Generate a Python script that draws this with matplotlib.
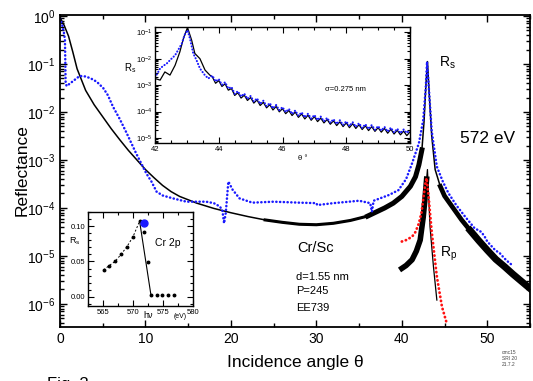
import numpy as np
import matplotlib
matplotlib.use('Agg')
import matplotlib.pyplot as plt
from matplotlib.ticker import LogLocator, MultipleLocator, NullFormatter, FixedLocator, FixedFormatter

plt.rcParams['font.family'] = ['Liberation Sans', 'DejaVu Sans']
plt.rcParams['mathtext.default'] = 'regular'

# ---- main panel: measured Rs (blue), calculated Rs (black), Rp (red / black), log10 values
blue_t = [0, 0.25, 0.47, 0.58, 0.66, 0.78, 1.5, 2.3, 3.0, 3.6, 4.3, 5.05, 5.6, 6.2, 7.0, 7.8,
          8.9, 10.1, 10.7, 11.3, 12.0, 13.2, 14.8, 16.0, 17.1, 18.0, 18.7, 19.0, 19.2, 19.4,
          19.7, 20.2, 21.0, 22.5, 25.0, 28.0, 30.0, 30.1, 32.0, 35.0, 36.3, 36.5, 36.7, 38.5,
          39.6, 40.5, 41.2, 42.0, 42.5, 42.8, 42.95, 43.2, 43.5, 44.1, 44.8, 45.45, 46.4, 47.4,
          48.5, 49.3, 49.7, 50.0, 50.9, 51.5, 52.0, 52.6, 53.0]
blue_log = [-0.05, -0.18, -0.36, -0.5, -1.4, -1.46, -1.36, -1.25, -1.26, -1.3, -1.37, -1.5,
            -1.65, -1.89, -2.15, -2.44, -2.86, -3.28, -3.45, -3.66, -3.74, -3.8, -3.87, -3.87,
            -3.87, -3.9, -3.97, -4.05, -4.32, -4.1, -3.45, -3.62, -3.8, -3.89, -3.87, -3.89,
            -3.9, -3.94, -3.9, -3.85, -3.9, -4.08, -3.85, -3.73, -3.63, -3.4, -3.07, -2.65,
            -2.17, -1.5, -0.95, -1.6, -2.4, -3.14, -3.45, -3.69, -3.95, -4.18, -4.42, -4.5,
            -4.6, -4.7, -4.875, -4.95, -5.05, -5.15, -5.2]

rs_t = [0, 0.5, 1.0, 1.5, 2.0, 3.0, 4.0, 5.0, 6.0, 7.0, 8.0, 9.0, 10.0, 11.0, 12.0, 13.0, 14.0,
        16.0, 18.0, 20.0, 22.0, 24.0, 26.0, 28.0, 30.0, 32.0, 34.0, 36.0, 38.0, 39.0, 40.0,
        41.0, 41.6, 42.0, 42.35, 42.6, 42.8, 43.0, 43.2, 43.5, 43.9, 44.5, 45.0, 46.0, 47.0,
        48.0, 49.0, 50.0, 51.0, 52.0, 53.0, 54.0, 55.0]
rs_log = [-0.03, -0.2, -0.42, -0.75, -1.1, -1.55, -1.85, -2.1, -2.35, -2.58, -2.8, -3.0, -3.2,
          -3.37, -3.53, -3.66, -3.76, -3.9, -4.01, -4.1, -4.18, -4.25, -4.3, -4.34, -4.35,
          -4.32, -4.26, -4.17, -4.0, -3.9, -3.76, -3.55, -3.35, -3.1, -2.79, -2.2, -1.5,
          -0.95, -1.6, -2.5, -3.2, -3.55, -3.75, -4.0, -4.25, -4.47, -4.68, -4.88, -5.07,
          -5.22, -5.38, -5.53, -5.68]

rp_t = [40.0, 40.5, 41.2, 41.6, 42.0, 42.3, 42.5, 42.75, 42.9, 43.1, 43.5, 44.1, 44.7, 45.25]
rp_log = [-4.7, -4.67, -4.6, -4.5, -4.32, -4.1, -3.83, -3.5, -3.38, -3.7, -4.5, -5.43, -6.06, -6.4]

rpc_t = [40.0, 40.5, 41.2, 41.7, 42.15, 42.5, 42.7, 42.9, 43.0, 43.3, 43.7, 44.1]
rpc_log = [-5.26, -5.2, -5.08, -4.9, -4.67, -4.2, -3.83, -3.4, -3.2, -4.39, -5.22, -5.92]

# ---- inset 1: zoom on the Bragg peak
in_t = [42.0, 42.16, 42.31, 42.47, 42.63, 42.78, 42.9, 43.02, 43.15, 43.25, 43.41, 43.57, 43.72,
        43.8, 43.9, 44.0, 44.1, 44.2, 44.3, 44.4, 44.5, 44.6, 44.7, 44.8, 44.9, 45.0, 45.1,
        45.2, 45.3, 45.4, 45.5, 45.6, 45.7, 45.8, 45.9, 46.0, 46.1, 46.2, 46.3, 46.4, 46.5,
        46.6, 46.7, 46.8, 46.9, 47.0, 47.1, 47.2, 47.3, 47.4, 47.5, 47.6, 47.7, 47.8, 47.9,
        48.0, 48.1, 48.2, 48.3, 48.4, 48.5, 48.6, 48.7, 48.8, 48.9, 49.0, 49.1, 49.2, 49.3,
        49.4, 49.5, 49.6, 49.7, 49.8, 49.9, 50.0]
in_calc = [-2.75, -2.81, -2.5, -2.62, -2.25, -1.74, -1.2, -0.82, -1.3, -1.8, -2.0, -2.43, -2.62,
           -2.69, -2.93, -2.83, -3.05, -2.95, -3.19, -3.13, -3.39, -3.29, -3.49,
           -3.38, -3.58, -3.47, -3.68, -3.56, -3.77, -3.65, -3.86, -3.74, -3.94,
           -3.81, -4.01, -3.89, -4.08, -3.96, -4.15, -4.02, -4.22, -4.09, -4.28,
           -4.14, -4.33, -4.19, -4.38, -4.25, -4.43, -4.30, -4.48, -4.35, -4.53,
           -4.39, -4.57, -4.43, -4.61, -4.46, -4.64, -4.50, -4.68, -4.54, -4.72,
           -4.57, -4.75, -4.61, -4.78, -4.64, -4.82, -4.67, -4.85, -4.71, -4.88,
           -4.74, -4.91, -4.77]
inb_t = [42.0, 42.08, 42.16, 42.25, 42.37, 42.5, 42.63, 42.75, 42.84, 42.93, 43.02, 43.1, 43.2,
         43.3, 43.41, 43.55, 43.67,
         43.8, 43.9, 44.0, 44.1, 44.2, 44.3, 44.4, 44.5, 44.6, 44.7, 44.8, 44.9, 45.0, 45.1,
         45.2, 45.3, 45.4, 45.5, 45.6, 45.7, 45.8, 45.9, 46.0, 46.1, 46.2, 46.3, 46.4, 46.5,
         46.6, 46.7, 46.8, 46.9, 47.0, 47.1, 47.2, 47.3, 47.4, 47.5, 47.6, 47.7, 47.8, 47.9,
         48.0, 48.1, 48.2, 48.3, 48.4, 48.5, 48.6, 48.7, 48.8, 48.9, 49.0, 49.1, 49.2, 49.3,
         49.4, 49.5, 49.6, 49.7, 49.8, 49.9, 50.0]
inb_meas = [-2.7, -2.55, -2.37, -2.28, -2.18, -2.02, -1.87, -1.62, -1.43, -1.1, -0.92, -1.25, -1.8,
            -2.05, -2.37, -2.6, -2.75,
            -2.64, -2.86, -2.77, -2.99, -2.89, -3.13, -3.07, -3.33, -3.23, -3.43,
            -3.32, -3.52, -3.41, -3.62, -3.50, -3.71, -3.59, -3.80, -3.68, -3.88,
            -3.75, -3.95, -3.83, -4.02, -3.90, -4.09, -3.96, -4.16, -4.03, -4.22,
            -4.08, -4.27, -4.13, -4.32, -4.19, -4.37, -4.24, -4.42, -4.29, -4.47,
            -4.33, -4.51, -4.37, -4.55, -4.40, -4.58, -4.44, -4.62, -4.48, -4.66,
            -4.51, -4.69, -4.55, -4.72, -4.58, -4.76, -4.61, -4.79, -4.65, -4.82,
            -4.68, -4.81, -4.70]

# ---- inset 2: peak Rs vs photon energy (Cr 2p)
e_pts = [565.1, 566.0, 567.0, 568.0, 569.0, 570.0, 571.1, 571.9, 572.5, 573.0, 574.0, 574.8, 575.8, 576.8]
r_pts = [0.038, 0.044, 0.050, 0.060, 0.071, 0.085, 0.107, 0.092, 0.049, 0.002, 0.002, 0.002, 0.002, 0.002]
e_blue = [571.9]
r_blue = [0.104]

W, H = 533, 381
fig = plt.figure(figsize=(5.33, 3.81), dpi=100)


def box(x0, y0, x1, y1):
    return [x0 / W, 1 - y1 / H, (x1 - x0) / W, (y1 - y0) / H]


def ftext(x, y, s, **kw):
    fig.text(x / W, 1 - y / H, s, **kw)


BLUE = '#1a1aff'
RED = '#ff1010'
dots = dict(ls=(0, (0.1, 1.4)), dash_capstyle='round')

##### main plot
ax = fig.add_axes(box(60, 15, 530, 327))
ax.set_yscale('log')
ax.set_xlim(0, 55)
ax.set_ylim(3.3e-7, 1.05)

rs_t = np.array(rs_t)
rs = 10 ** np.array(rs_log)
ax.plot(rs_t, rs, color='k', lw=1.1)
# fringes too dense to resolve -> drawn as a band
m = (rs_t >= 24) & (rs_t <= 36)
ax.plot(rs_t[m], rs[m], color='k', lw=2.2)
m = (rs_t >= 36) & (rs_t <= 42.35)
ax.plot(rs_t[m], rs[m], color='k', lw=3.6)
m = (rs_t >= 44.5) & (rs_t <= 48)
ax.plot(rs_t[m], rs[m], color='k', lw=3.4)
m = (rs_t >= 48)
ax.plot(rs_t[m], rs[m], color='k', lw=5.0)

ax.plot(blue_t, 10 ** np.array(blue_log), color=BLUE, lw=1.8, **dots)

rpc = 10 ** np.array(rpc_log)
ax.plot(rpc_t[:8], rpc[:8], color='k', lw=4.0)
ax.plot(rpc_t[7:], rpc[7:], color='k', lw=0.9)
ax.plot(rp_t, 10 ** np.array(rp_log), color=RED, lw=2.0, **dots)

ax.xaxis.set_major_locator(MultipleLocator(10))
ax.xaxis.set_minor_locator(MultipleLocator(5))
ax.yaxis.set_major_locator(LogLocator(base=10, numticks=20))
ax.yaxis.set_minor_locator(LogLocator(base=10, subs=range(2, 10), numticks=20))
ax.yaxis.set_minor_formatter(NullFormatter())
ax.tick_params(which='both', direction='in', top=True, right=True, labelsize=10, width=1)
ax.tick_params(which='major', length=5)
ax.tick_params(which='minor', length=3)
for s in ax.spines.values():
    s.set_linewidth(1.3)

ax.text(46.8, 10 ** -2.55, '572 eV', fontsize=12.5, ha='left', va='center')
ax.text(44.4, 10 ** -0.98, '$R_{s}$', fontsize=10, ha='left', va='center')
ax.text(44.5, 10 ** -4.96, '$R_{p}$', fontsize=10, ha='left', va='center')
ax.text(29.9, 10 ** -4.84, 'Cr/Sc', fontsize=10.5, ha='center', va='center')
ax.text(27.6, 10 ** -5.43, 'd=1.55 nm', fontsize=8, ha='left', va='center')
ax.text(27.6, 10 ** -5.74, 'P=245', fontsize=8, ha='left', va='center')
ax.text(27.6, 10 ** -6.09, 'EE739', fontsize=8, ha='left', va='center')

ftext(295, 363, 'Incidence angle θ', fontsize=12.5, ha='center', va='center')
ftext(22, 170, 'Reflectance', fontsize=12.5, ha='center', va='center', rotation=90)
ftext(47, 377, 'Fig. 3', fontsize=12, ha='left', va='top')
ftext(502, 352, 'cmc15', fontsize=3.5, ha='left', va='center', color='#444444')
ftext(502, 358, 'SRI 20', fontsize=3.5, ha='left', va='center', color='#444444')
ftext(502, 364, '21.7.2', fontsize=3.5, ha='left', va='center', color='#444444')

##### inset 1
ax1 = fig.add_axes(box(155, 27, 410, 143))
ax1.set_yscale('log')
ax1.set_xlim(42, 50)
ax1.set_ylim(10 ** -5.19, 10 ** -0.8)
ax1.plot(in_t, 10 ** np.array(in_calc), color='k', lw=0.9)
ax1.plot(inb_t, 10 ** np.array(inb_meas), color=BLUE, lw=1.5, **dots)
ax1.xaxis.set_major_locator(MultipleLocator(2))
ax1.xaxis.set_minor_locator(MultipleLocator(0.5))
ax1.yaxis.set_major_locator(LogLocator(base=10, numticks=20))
ax1.yaxis.set_minor_locator(LogLocator(base=10, subs=range(2, 10), numticks=20))
ax1.yaxis.set_minor_formatter(NullFormatter())
ax1.tick_params(which='both', direction='in', top=True, right=True, labelsize=5.5, width=0.8, pad=2)
ax1.tick_params(which='major', length=4)
ax1.tick_params(which='minor', length=2.5)
for s in ax1.spines.values():
    s.set_linewidth(1.0)
ax1.text(47.33, 10 ** -3.15, 'σ=0.275 nm', fontsize=5.5, ha='left', va='center')
ftext(124, 68, '$R_{s}$', fontsize=7, ha='left', va='center')
ftext(303, 159, 'θ °', fontsize=5.5, ha='center', va='center')

##### inset 2
ax2 = fig.add_axes(box(88, 212, 193, 306))
ax2.set_xlim(562.5, 580)
ax2.set_ylim(-0.013, 0.12)
ax2.plot(e_pts[:7], r_pts[:7], color='k', lw=0.7, ls=(0, (2, 2)))
ax2.plot([e_pts[6], e_pts[9]], [r_pts[6], r_pts[9]], color='k', lw=0.8)
ax2.plot(e_pts, r_pts, 'o', color='k', ms=1.8)
ax2.plot(e_blue, r_blue, 'o', color=BLUE, ms=5)
ax2.xaxis.set_major_locator(MultipleLocator(5))
ax2.xaxis.set_minor_locator(MultipleLocator(2.5))
ax2.yaxis.set_major_locator(FixedLocator([0.0, 0.05, 0.10]))
ax2.yaxis.set_major_formatter(FixedFormatter(['0.00', '0.05', '0.10']))
ax2.yaxis.set_minor_locator(MultipleLocator(0.01))
ax2.tick_params(which='both', direction='in', top=True, right=True, labelsize=5.5, width=0.8, pad=2)
ax2.tick_params(which='major', length=4)
ax2.tick_params(which='minor', length=2.5)
for s in ax2.spines.values():
    s.set_linewidth(1.0)
ftext(75, 241, '$R_{s}$', fontsize=6.5, ha='center', va='center')
ftext(168, 243, 'Cr 2p', fontsize=7.5, ha='center', va='center')
ftext(148, 316, 'hν', fontsize=6.5, ha='center', va='center')
ftext(180, 317, '(eV)', fontsize=5, ha='center', va='center')

fig.savefig('out.png', dpi=100)
